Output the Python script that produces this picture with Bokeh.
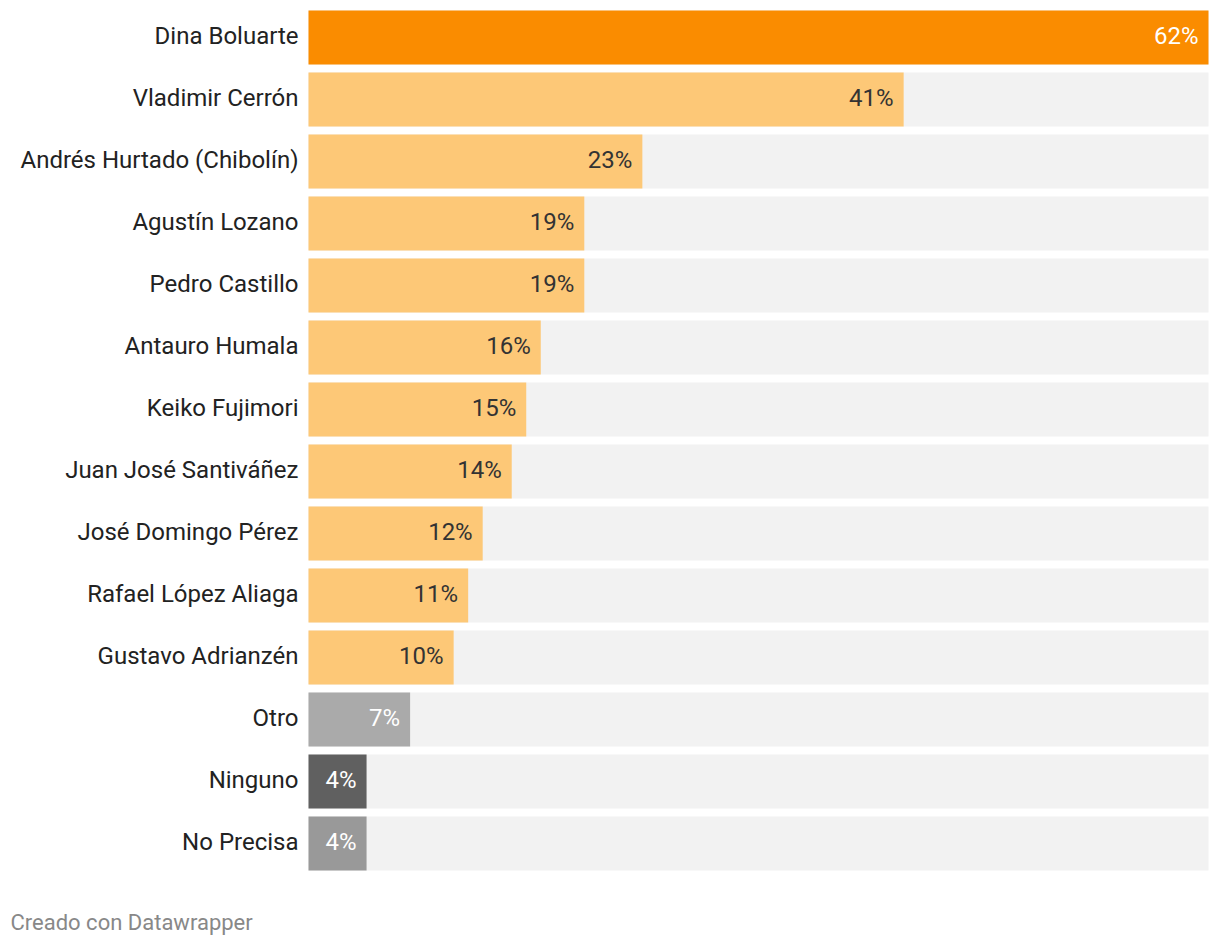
from bokeh.plotting import figure
from bokeh.models import ColumnDataSource, Range1d, Label
from bokeh.embed import file_html
from bokeh.resources import INLINE
from bokeh.core.properties import value

names = ["Dina Boluarte", "Vladimir Cerrón", "Andrés Hurtado (Chibolín)", "Agustín Lozano",
         "Pedro Castillo", "Antauro Humala", "Keiko Fujimori", "Juan José Santiváñez",
         "José Domingo Pérez", "Rafael López Aliaga", "Gustavo Adrianzén", "Otro",
         "Ninguno", "No Precisa"]
values = [62, 41, 23, 19, 19, 16, 15, 14, 12, 11, 10, 7, 4, 4]
bar_colors = ["#fa8c00"] + ["#fdc877"] * 10 + ["#aaaaaa", "#606060", "#999999"]
value_colors = ["#ffffff"] + ["#333333"] * 10 + ["#ffffff"] * 3
max_value = 62

W, H = 1212, 938
px_per_unit = 900 / max_value
x0 = 308
pos = [-i for i in range(len(names))]

src = ColumnDataSource(dict(
    y=pos, v=values, name=names, color=bar_colors, vcolor=value_colors,
    label=[f"{v}%" for v in values], zero=[0] * len(values), full=[max_value] * len(values),
))

p = figure(width=W, height=H, output_backend="svg", toolbar_location=None,
           x_range=Range1d(-x0 / px_per_unit, (W - x0) / px_per_unit),
           y_range=Range1d(37 / 62 - H / 62, 37 / 62),
           min_border=0, min_border_left=0, min_border_right=0,
           min_border_top=0, min_border_bottom=0)
p.axis.visible = False
p.grid.visible = False
p.outline_line_color = None
p.background_fill_color = "white"
p.border_fill_color = "white"

bh = 54 / 62
p.hbar(y="y", left="zero", right="full", height=bh, fill_color="#f2f2f2", line_color=None, source=src)
p.hbar(y="y", left="zero", right="v", height=bh, fill_color="color", line_color=None, source=src)

p.text(x="zero", y="y", text="name", x_offset=-10, y_offset=-2, text_align="right", text_baseline="middle",
       text_font=value("Roboto"), text_font_size="24px", text_color="#222222", source=src)
p.text(x="v", y="y", text="label", x_offset=-10, y_offset=-2, text_align="right", text_baseline="middle",
       text_font=value("Roboto"), text_font_size="24px", text_color="vcolor", source=src)

footer = Label(x=10, y=H - 922, x_units="screen", y_units="screen", text="Creado con Datawrapper",
               text_font="Roboto", text_font_size="22px", text_color="#888888",
               text_baseline="middle")
p.add_layout(footer)

open("out.html", "w").write(file_html(p, INLINE))
